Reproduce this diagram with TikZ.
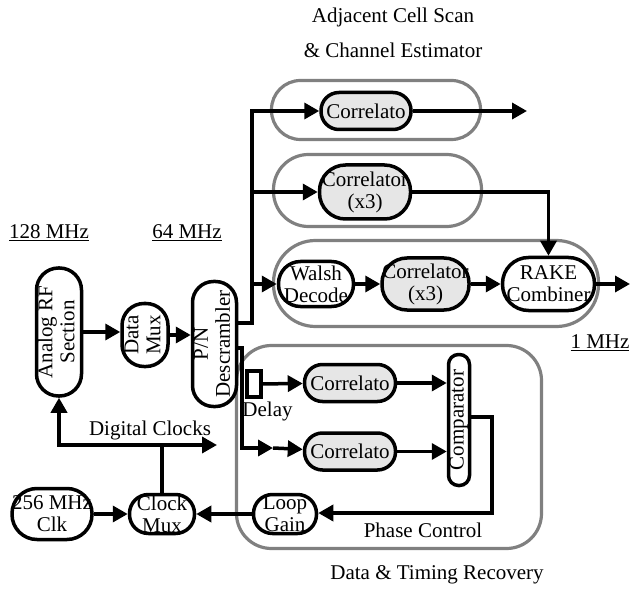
\documentclass[tikz,border=0pt]{standalone}
\usepackage{fontspec}
\setmainfont{Liberation Serif}
\usetikzlibrary{arrows.meta,positioning}
\definecolor{grpgray}{HTML}{808080}
\definecolor{corrfill}{HTML}{E6E6E6}
\newcommand{\figfont}{\fontsize{21}{22}\selectfont}
\newcommand{\vtext}[1]{\rotatebox{90}{\begin{tabular}{@{}c@{}}#1\end{tabular}}}
\tikzset{
  blk/.style={rectangle,draw=black,fill=white,line width=3.5pt,align=center,inner sep=0pt,font=\figfont},
  corr/.style={blk,fill=corrfill},
  grp/.style={rectangle,draw=grpgray,line width=3.2pt,inner sep=0pt},
  delaybox/.style={rectangle,draw=black,line width=3.5pt,minimum width=14pt,minimum height=26pt,inner sep=0pt},
  wire/.style={line width=3.5pt,draw=black},
  arr/.style={wire,-{Triangle[length=15pt,width=16pt]}},
  lbl/.style={font=\figfont,inner sep=0pt},
}
\begin{document}
\begin{tikzpicture}[x=1pt,y=1pt]
\useasboundingbox (0,0) rectangle (632,590);
% group outlines
\node[grp,minimum width=209pt,minimum height=59pt,rounded corners=29pt] (gscan) at (376,480) {};
\node[grp,minimum width=208pt,minimum height=72pt,rounded corners=35pt] (gchan) at (377.5,399.5) {};
\node[grp,minimum width=325pt,minimum height=86pt,rounded corners=42pt] (gdata) at (436,306.5) {};
\node[grp,minimum width=305pt,minimum height=203pt,rounded corners=35pt] (gtime) at (389,143) {};
% front end
\node[blk,minimum width=45pt,minimum height=128pt,rounded corners=22pt] (rf) at (59,258) {\vtext{Analog RF\\Section}};
\node[blk,minimum width=46pt,minimum height=63pt,rounded corners=22pt,right=37pt of rf,yshift=-3pt] (dmux) {\vtext{Data\\Mux}};
\node[blk,minimum width=44pt,minimum height=125pt,rounded corners=21pt,right=21pt of dmux,yshift=-9pt] (pn) {\vtext{P/N\\Descrambler}};
% scan / channel / data paths
\node[corr,minimum width=90pt,minimum height=37pt,rounded corners=18pt] (corr1) at (366,479) {Correlato};
\node[corr,minimum width=91pt,minimum height=54pt,rounded corners=26pt] (corr2) at (365,398) {Correlator\\(x3)};
\node[blk,minimum width=75pt,minimum height=45pt,rounded corners=22pt] (walsh) at (316,306) {Walsh\\Decode};
\node[corr,minimum width=87pt,minimum height=52pt,rounded corners=25pt,right=25pt of walsh] (corr3) {Correlator\\(x3)};
\node[blk,minimum width=92pt,minimum height=53pt,rounded corners=26pt,right=30pt of corr3] (rake) {RAKE\\Combiner};
% timing recovery
\node[corr,minimum width=91pt,minimum height=37pt,rounded corners=18pt] (corrA) at (350,207) {Correlato};
\node[corr,minimum width=91pt,minimum height=37pt,rounded corners=18pt,below=28pt of corrA] (corrB) {Correlato};
\node[delaybox,left=40pt of corrA,yshift=-1pt] (delay) {};
\node[lbl,anchor=north west] (dlbl) at ([xshift=-3pt,yshift=-3pt]delay.south west) {Delay};
\node[blk,minimum width=21pt,minimum height=131pt,rounded corners=10pt] (comp) at (459,170) {\rotatebox{90}{Comparator}};
\node[blk,minimum width=63pt,minimum height=39pt,rounded corners=19pt] (lgain) at (285,76) {Loop\\Gain};
% clocks
\node[blk,minimum width=80pt,minimum height=51pt,rounded corners=25pt] (clk) at (52,76) {256 MHz\\Clk};
\node[blk,minimum width=65pt,minimum height=39pt,rounded corners=19pt,right=34pt of clk] (cmux) {Clock\\Mux};
% labels
\node[lbl] (f128) at (49,357) {\underline{128 MHz}};
\node[lbl] (f64) at (187,357) {\underline{64 MHz}};
\node[lbl] (f1) at (600,247) {\underline{1 MHz}};
\node[lbl] (tscan) at (393,573) {Adjacent Cell Scan};
\node[lbl] (tchan) at (393,540) {\& Channel Estimator};
\node[lbl] (tphase) at (423,60) {Phase Control};
\node[lbl] (ttime) at (437,15) {Data \& Timing Recovery};
\node[lbl] (tclk) at (150,160) {Digital Clocks};
% connectors
\coordinate (spine) at (252,479);
\coordinate (out1) at (527,479);
\coordinate (out3) at (630,306);
\coordinate (tap) at (242,142);
\coordinate (split) at (273,142);
\coordinate (fb) at (492,77);
\coordinate (dclk) at (217,145);
\draw[arr] (rf.east) -- (rf.east -| dmux.west);
\draw[arr] (dmux.east) -- (dmux.east -| pn.west);
\draw[arr] ([yshift=21pt]pn.east) -| (spine) -- (corr1);
\draw[arr] (spine |- corr2) -- (corr2);
\draw[arr] (spine |- walsh) -- (walsh);
\draw[arr] (corr1) -- (out1);
\draw[arr] (corr2) -| (rake);
\draw[arr] (walsh) -- (corr3);
\draw[arr] (corr3) -- (rake);
\draw[arr] (rake) -- (out3);
\draw[arr] ([yshift=-4pt]pn.east) -| (tap) -- (split);
\draw[arr] (split) -- (corrB);
\draw[arr] (delay) -- (corrA);
\draw[arr] (corrA) -- (corrA -| comp.west);
\draw[arr] (corrB) -- (corrB -| comp.west);
\draw[arr] ([yshift=3pt]comp.east) -| (fb) -- (fb -| lgain.east);
\draw[arr] (lgain) -- (cmux);
\draw[arr] (clk) -- (cmux);
\draw[arr] (cmux) |- (dclk);
\draw[arr] (cmux) |- (rf.south |- dclk) -- (rf.south);
\end{tikzpicture}
\end{document}
